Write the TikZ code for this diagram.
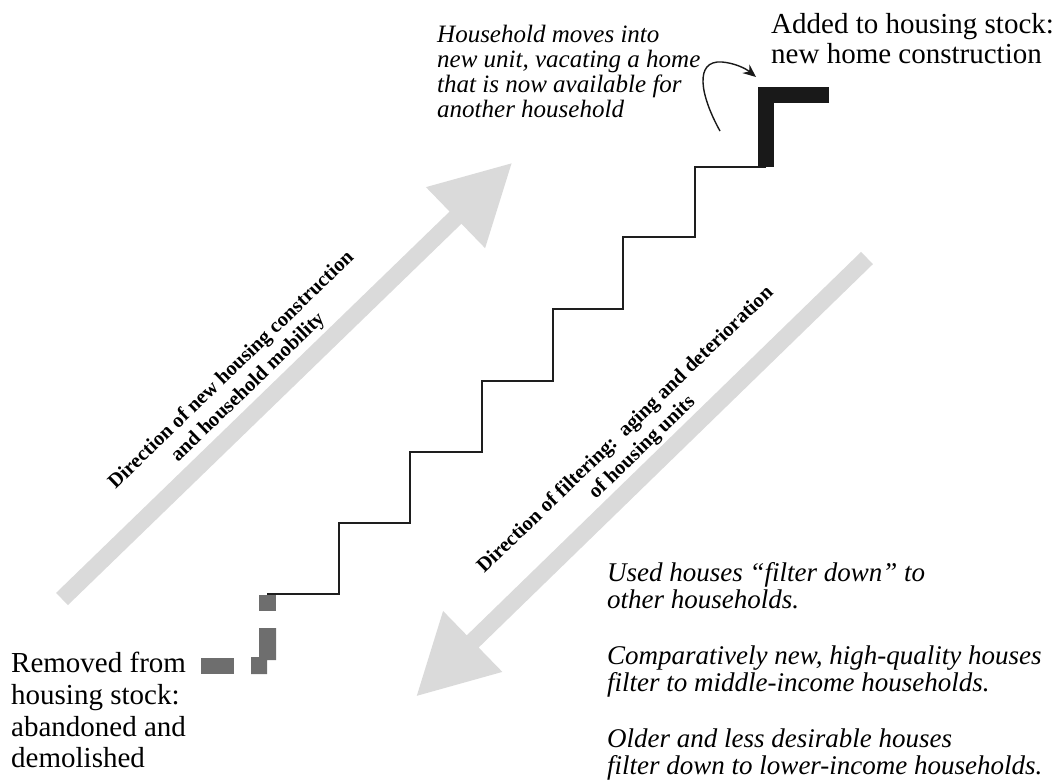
\documentclass[tikz,border=0pt]{standalone}
\usepackage{fontspec}
\setmainfont{Liberation Serif}
\usetikzlibrary{arrows.meta}
\definecolor{arrowgray}{RGB}{218,218,218}
\definecolor{removedgray}{RGB}{110,110,110}
\definecolor{stairc}{RGB}{30,30,30}
\begin{document}
\begin{tikzpicture}[x=1pt,y=-1pt,
  lbl/.style={inner sep=0pt, anchor=north west, align=left},
  rotlbl/.style={inner sep=0pt, align=center, font=\bfseries\fontsize{20.5}{24}\selectfont, rotate=44},
  stairthin/.style={draw=stairc, line width=1.8pt, line join=miter},
  stairthick/.style={draw=black!90, line width=16pt, line join=miter},
  bigarrow/.style={fill=arrowgray},
  removed/.style={fill=removedgray},
  movearrow/.style={draw=black!90, line width=1.4pt, -{Stealth[length=13pt,width=11pt]}}]
\useasboundingbox (0,0) rectangle (1059,779);

% big gray block arrows
\coordinate (upTail) at (62,599);
\coordinate (downTail) at (867,258);
\begin{scope}[shift={(upTail)}, rotate=44.1]
  \fill[bigarrow] (0pt,-8.5pt) -- (548pt,-8.5pt) -- (548pt,-42.5pt) -- (626pt,0pt)
     -- (548pt,42.5pt) -- (548pt,8.5pt) -- (0pt,8.5pt) -- cycle;
\end{scope}
\begin{scope}[shift={(downTail)}, rotate=224.2]
  \fill[bigarrow] (0pt,-8.5pt) -- (550pt,-8.5pt) -- (550pt,-42.5pt) -- (628pt,0pt)
     -- (550pt,42.5pt) -- (550pt,8.5pt) -- (0pt,8.5pt) -- cycle;
\end{scope}

% staircase
\draw[stairthin] (766,167) -- (695,167) -- (695,237) -- (623,237) -- (623,309)
  -- (553,309) -- (553,381) -- (482,381) -- (482,452) -- (410,452) -- (410,523)
  -- (339,523) -- (339,594) -- (267,594);
\draw[stairthick] (829,95) -- (766,95) -- (766,167);

% removed (gray) pieces
\fill[removed] (259,595) rectangle (276,611);
\fill[removed] (259,628) -- (276,628) -- (276,660) -- (267,660) -- (267,674)
  -- (251,674) -- (251,657) -- (259,657) -- cycle;
\fill[removed] (201,658) rectangle (234,674);

% curved arrow
\coordinate (moveStart) at (720,131);
\coordinate (moveEnd) at (756,77);
\draw[movearrow] (moveStart) .. controls (700,95) and (694,60) .. (722,62)
  .. controls (734,63) and (745,68) .. (moveEnd);

% texts
\node[lbl, font=\itshape\fontsize{25}{25}\selectfont] (moves) at (437,25)
  {Household moves into\\new unit, vacating a home\\that is now available for\\another household};
\node[lbl, font=\fontsize{29}{30}\selectfont] (added) at (771,13)
  {Added to housing stock:\\new home construction};
\node[lbl, font=\fontsize{29}{31.7}\selectfont] (removedtxt) at (11,652)
  {Removed from\\housing stock:\\abandoned and\\demolished};
\node[lbl, font=\itshape\fontsize{27}{27.5}\selectfont] (filtertxt) at (607,562)
  {Used houses ``filter down'' to\\other households.\\[28pt]
   Comparatively new, high-quality houses\\filter to middle-income households.\\[28pt]
   Older and less desirable houses\\filter down to lower-income households.};
\node[rotlbl] (upLbl) at (240,379)
  {Direction of new housing construction\\and household mobility};
\node[rotlbl] (downLbl) at (634,439)
  {Direction of filtering:\ \ aging and deterioration\\of housing units};
\end{tikzpicture}
\end{document}
